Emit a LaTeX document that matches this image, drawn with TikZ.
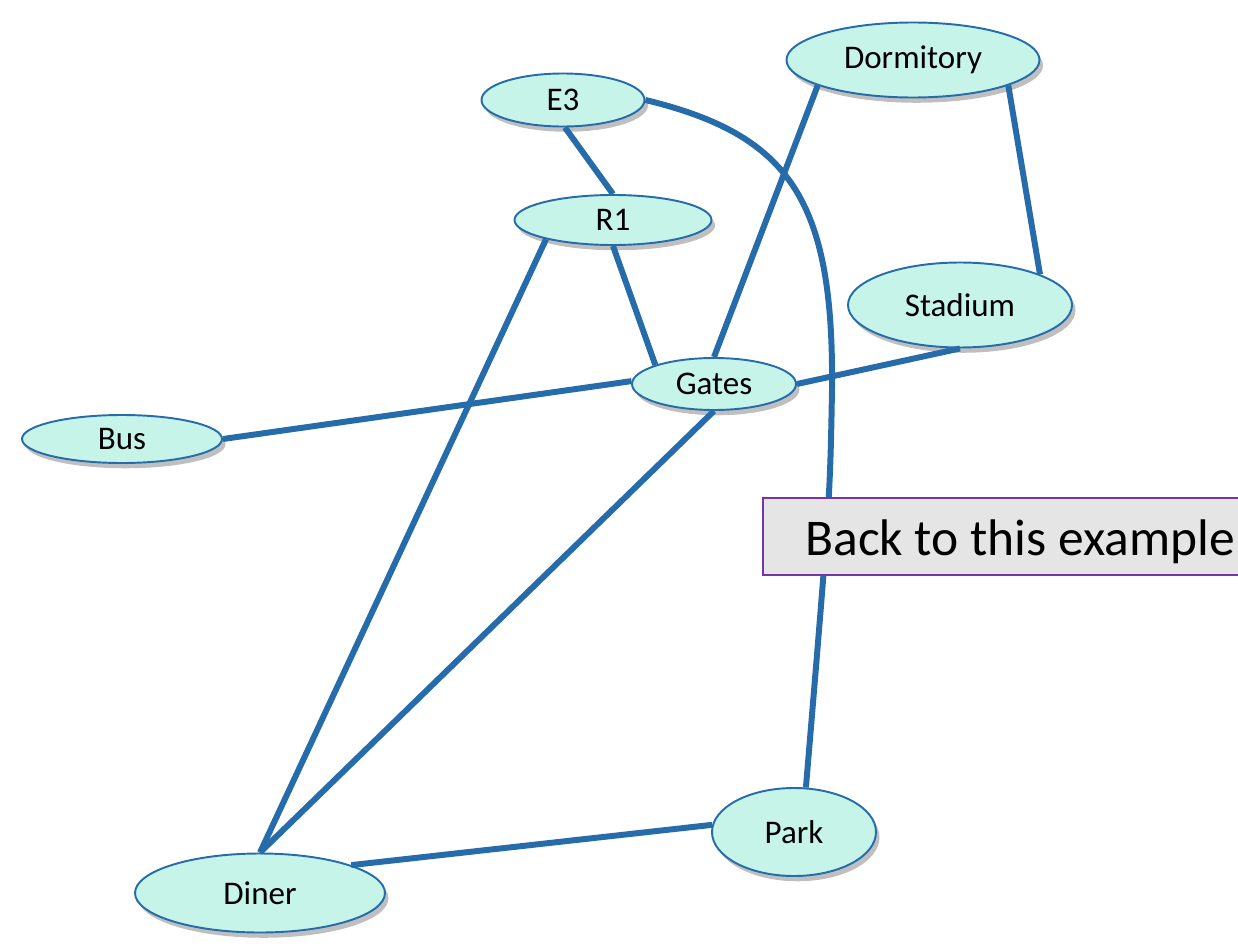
\documentclass[tikz,border=0pt]{standalone}
\usepackage{fontspec}
\setmainfont{Carlito}
\usetikzlibrary{shapes.geometric,shadows}
\definecolor{nodefill}{RGB}{198,244,232}
\definecolor{edgeblue}{RGB}{38,108,170}
\definecolor{boxgray}{RGB}{229,229,229}
\definecolor{boxpurple}{RGB}{120,50,170}
\begin{document}
\begin{tikzpicture}[x=0.02cm,y=-0.02cm,
  place/.style={ellipse, draw=edgeblue, line width=1.1pt, fill=nodefill, inner sep=0pt,
    font=\fontsize{18.8}{21}\selectfont,
    drop shadow={shadow xshift=2pt,shadow yshift=-3pt,fill=black,opacity=0.25}},
  link/.style={draw=edgeblue, line width=3.4pt},
  notebox/.style={draw=boxpurple, line width=0.8pt, fill=boxgray}]
\path[use as bounding box, clip] (0,0) rectangle (1238,946);
% nodes
\node[place, minimum width=163*0.02cm, minimum height=53*0.02cm] (E3) at (563,100) {E3};
\node[place, minimum width=197*0.02cm, minimum height=50*0.02cm] (R1) at (613,220) {R1};
\node[place, minimum width=253*0.02cm, minimum height=75*0.02cm] (Dorm) at (913,60) {Dormitory};
\node[place, minimum width=224*0.02cm, minimum height=85*0.02cm] (Stadium) at (960,305) {Stadium};
\node[place, minimum width=164*0.02cm, minimum height=52*0.02cm] (Gates) at (714,384) {Gates};
\node[place, minimum width=200*0.02cm, minimum height=48*0.02cm] (Bus) at (122,439) {Bus};
\node[place, minimum width=164*0.02cm, minimum height=88*0.02cm] (Park) at (794,832) {Park};
\node[place, minimum width=250*0.02cm, minimum height=79*0.02cm] (Diner) at (260,893) {Diner};
% edges
\draw[link] (E3.-86) -- (R1.north);
\draw[link] (R1.south) -- (Gates.162);
\draw[link] (R1.196) -- (Diner.north);
\draw[link] (Dorm.195.5) -- (Gates.north);
\draw[link] (Dorm.-15.5) -- (Stadium.21.8);
\draw[link] (Bus.east) -- (Gates.178);
\draw[link] (Gates.east) -- (Stadium.south);
\draw[link] (Gates.south) -- (Diner.north);
\draw[link] (Diner.17.8) -- (Park.175);
\draw[link] (E3.east) .. controls (790,135) and (834,200) .. (832,390) .. controls (830,500) .. (Park.75);
% note box
\draw[notebox] (763,498) rectangle (1250,575);
\node[anchor=base west, font=\fontsize{29.3}{32}\selectfont, inner sep=0pt] (note) at (805,555) {Back to this example};
\end{tikzpicture}
\end{document}
